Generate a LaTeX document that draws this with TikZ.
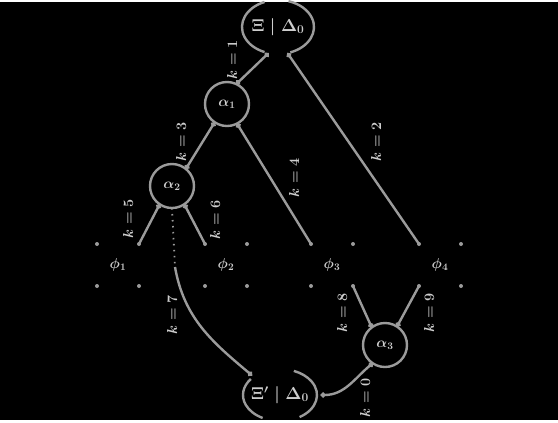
\documentclass[tikz,border=0pt]{standalone}
\usepackage{amsmath}
\usepackage{amssymb}
\usetikzlibrary{shapes.geometric}
\usetikzlibrary{arrows.meta}
\definecolor{edgegray}{RGB}{155,155,155}
\definecolor{textgray}{RGB}{205,205,205}
\tikzstyle{link}=[draw=edgegray,line width=2.4pt]
\tikzstyle{vert}=[circle,draw=edgegray,line width=2.4pt,minimum size=44pt,inner sep=0pt,outer sep=0pt,text=textgray,font=\Large\boldmath]
\tikzstyle{leaf}=[rectangle,draw=edgegray,line width=4pt,line cap=round,dash pattern=on 0pt off 42pt,minimum size=42pt,inner sep=0pt,outer sep=0pt,text=textgray,font=\Large\boldmath]
\tikzstyle{cut}=[ellipse,minimum width=72pt,minimum height=54pt,inner sep=0pt,outer sep=0pt,text=textgray,font=\LARGE\boldmath]
\tikzstyle{lab}=[rotate=90,text=textgray,font=\Large\boldmath,inner sep=1pt]

\begin{document}
\begin{tikzpicture}[x=1pt,y=1pt,>={Circle[length=5pt]}]
	\fill[black] (0,0) rectangle (558,418);
	\node[cut] (0) at (278,393) {$\Xi\mid\Delta_0$};
	\node[vert] (1) at (227,316) {$\alpha_1$};
	\node[vert] (2) at (172,234) {$\alpha_2$};
	\node[leaf] (3) at (118,155) {$\phi_1$};
	\node[leaf] (4) at (226,155) {$\phi_2$};
	\node[leaf] (5) at (332,155) {$\phi_3$};
	\node[leaf] (6) at (440,155) {$\phi_4$};
	\node[vert] (7) at (385,75) {$\alpha_3$};
	\node[cut] (8) at (280,25) {$\Xi'\mid\Delta_0$};
	\coordinate (9) at (175,153);
	\draw[link] (0.center) ++(112:36 and 27) arc[start angle=112,end angle=248,x radius=36,y radius=27];
	\draw[link] (0.center) ++(-70:36 and 27) arc[start angle=-70,end angle=73,x radius=36,y radius=27];
	\draw[link] (8.center) ++(142:37 and 26) arc[start angle=142,end angle=242,x radius=37,y radius=26];
	\draw[link] (8.center) ++(-58:37 and 26) arc[start angle=-58,end angle=68,x radius=37,y radius=26];
	\node[lab] (10) at (232,360) {$k=1$};
	\node[lab] (11) at (376,278) {$k=2$};
	\node[lab] (12) at (181,278) {$k=3$};
	\node[lab] (13) at (294,242) {$k=4$};
	\node[lab] (14) at (128,201) {$k=5$};
	\node[lab] (15) at (215,200) {$k=6$};
	\node[lab] (16) at (172,105) {$k=7$};
	\node[lab] (17) at (342,107) {$k=8$};
	\node[lab] (18) at (429,107) {$k=9$};
	\node[lab] (19) at (365,22) {$k=0$};
	\draw[link,<->] (0.250) -- (1.65);
	\draw[link,<-] (0.290) -- (6.north west);
	\draw[link,<->] (1.236) -- (2.51);
	\draw[link,<-] (1.297) -- (5.north west);
	\draw[link,<-] (2.236) -- (3.north east);
	\draw[link,<-] (2.304) -- (4.north west);
	\draw[link,line width=1.8pt,dash pattern=on 1.5pt off 4.5pt] (2.270) -- (9);
	\draw[link,->] (9) to[out=-80,in=140] (8.145);
	\draw[link,->] (5.south east) -- (7.127);
	\draw[link,->] (6.south west) -- (7.57);
	\draw[link,<->] (7.236) to[out=220,in=0] (8.0);
\end{tikzpicture}
\end{document}
